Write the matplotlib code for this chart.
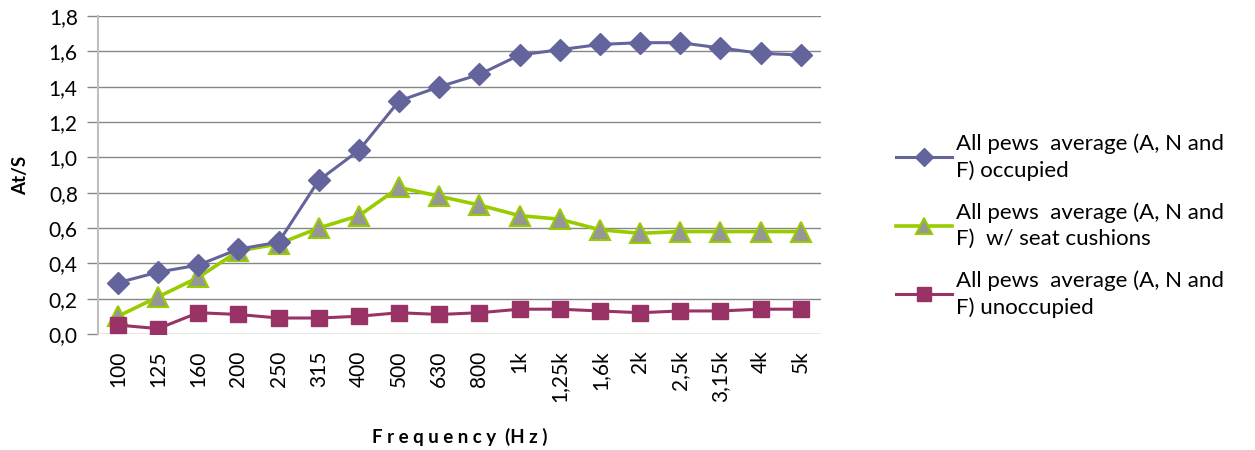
"""At/S vs frequency for all pews (occupied / cushions / unoccupied)."""

import matplotlib
matplotlib.use("Agg")
import matplotlib.pyplot as plt

plt.rcParams["font.family"] = ["Lato", "DejaVu Sans"]

freqs = ["100", "125", "160", "200", "250", "315", "400", "500", "630", "800",
         "1k", "1,25k", "1,6k", "2k", "2,5k", "3,15k", "4k", "5k"]
occupied = [0.29, 0.35, 0.39, 0.48, 0.52, 0.87, 1.04, 1.32, 1.40, 1.47,
            1.58, 1.61, 1.64, 1.65, 1.65, 1.62, 1.59, 1.58]
cushions = [0.10, 0.21, 0.32, 0.47, 0.51, 0.60, 0.67, 0.83, 0.78, 0.73,
            0.67, 0.65, 0.59, 0.57, 0.58, 0.58, 0.58, 0.58]
unoccupied = [0.05, 0.03, 0.12, 0.11, 0.09, 0.09, 0.10, 0.12, 0.11, 0.12,
              0.14, 0.14, 0.13, 0.12, 0.13, 0.13, 0.14, 0.14]
labels = ["All pews  average (A, N and\nF) occupied",
          "All pews  average (A, N and\nF)  w/ seat cushions",
          "All pews  average (A, N and\nF) unoccupied"]
yticks = [0.0, 0.2, 0.4, 0.6, 0.8, 1.0, 1.2, 1.4, 1.6, 1.8]

fig = plt.figure(figsize=(12.55, 4.5), dpi=100)
ax = fig.add_axes([0.078, 0.258, 0.576, 0.706])

x = list(range(len(freqs)))
ax.plot(x, occupied, color="#64649C", lw=2.2, marker="D", markersize=11,
        markerfacecolor="#64649C", markeredgecolor="#64649C", label=labels[0], zorder=4)
ax.plot(x, cushions, color="#99CC00", lw=2.6, marker="^", markersize=15,
        markerfacecolor="#969696", markeredgecolor="#99CC00", markeredgewidth=1.5,
        label=labels[1], zorder=3)
ax.plot(x, unoccupied, color="#993366", lw=2.2, marker="s", markersize=12,
        markerfacecolor="#993366", markeredgecolor="#993366", label=labels[2], zorder=5)

ax.set_xlim(-0.5, len(freqs) - 0.5)
ax.set_ylim(0, 1.8)
ax.set_yticks(yticks)
ax.set_yticklabels([f"{v:.1f}".replace(".", ",") for v in yticks], fontsize=15)
ax.set_xticks(x)
ax.set_xticklabels(freqs, rotation=90, fontsize=15)
ax.tick_params(axis="x", length=0, pad=12)
ax.tick_params(axis="y", length=8, color="#868686", width=1, pad=6.5)
ax.grid(axis="y", color="#868686", lw=1)
ax.set_axisbelow(True)
for side in ["top", "right", "bottom"]:
    ax.spines[side].set_visible(False)
ax.spines["left"].set_color("#BFBFBF")
ax.spines["left"].set_linewidth(1.5)

ax.set_ylabel("At/S", fontsize=13.5, fontweight="bold")
ax.yaxis.set_label_coords(-0.095, 0.5)
ax.set_xlabel("F r e q u e n c y  (H z )", fontsize=13.5, fontweight="bold")
ax.xaxis.set_label_coords(0.5, -0.295)

leg = ax.legend(loc="center left", bbox_to_anchor=(0.698, 0.499), bbox_transform=fig.transFigure,
                frameon=False, fontsize=16, handlelength=2.5, handletextpad=0.2,
                labelspacing=0.95, markerscale=0.8)
for t in leg.get_texts():
    t.set_linespacing(1.4)

fig.savefig("out.png", dpi=100, facecolor="white")
